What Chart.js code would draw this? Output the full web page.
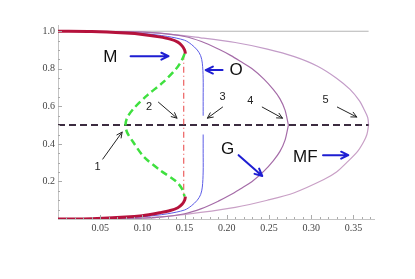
<!DOCTYPE html>
<html>
<head>
<meta charset="utf-8">
<script src="https://cdn.jsdelivr.net/npm/chart.js@4.4.1/dist/chart.umd.min.js"></script>
<style>
  html, body { margin: 0; padding: 0; background: #fff; }
  canvas { display: block; }
</style>
</head>
<body>
<canvas id="chart" width="415" height="279"></canvas>
<script>
// curve points [x, y]
const mUpper = [[0, 1.0], [0.04, 0.998], [0.08, 0.99], [0.10, 0.983], [0.12, 0.97], [0.133, 0.958], [0.142, 0.942], [0.147, 0.922], [0.150, 0.90], [0.151, 0.88]];
const mLower = [[0, 0], [0.04, 0.002], [0.08, 0.01], [0.10, 0.018], [0.12, 0.033], [0.133, 0.045], [0.142, 0.06], [0.147, 0.078], [0.150, 0.10], [0.151, 0.12]];
const mUnstable = [[0.150, 0.88], [0.146, 0.84], [0.140, 0.80], [0.125, 0.73], [0.106, 0.66], [0.090, 0.59], [0.082, 0.54], [0.080, 0.50], [0.082, 0.46], [0.089, 0.41], [0.102, 0.33], [0.121, 0.26], [0.140, 0.20], [0.147, 0.16], [0.150, 0.12]];
const oUpper = [[0, 1.0], [0.06, 0.996], [0.10, 0.988], [0.13, 0.972], [0.15, 0.952], [0.158, 0.93], [0.165, 0.90], [0.169, 0.87], [0.171, 0.83], [0.172, 0.75], [0.172, 0.65], [0.172, 0.55]];
const oLower = [[0, 0], [0.06, 0.004], [0.10, 0.012], [0.13, 0.028], [0.15, 0.048], [0.158, 0.07], [0.165, 0.10], [0.169, 0.13], [0.171, 0.17], [0.172, 0.25], [0.172, 0.35], [0.172, 0.45]];
const gUpper = [[0, 1.0], [0.08, 0.998], [0.12, 0.99], [0.15, 0.972], [0.17, 0.945], [0.19, 0.905], [0.205, 0.87], [0.216, 0.84], [0.23, 0.80], [0.244, 0.745], [0.255, 0.69], [0.263, 0.64], [0.269, 0.58], [0.273, 0.5]];
const gLower = [[0, 0], [0.08, 0.002], [0.12, 0.01], [0.15, 0.028], [0.17, 0.055], [0.19, 0.095], [0.205, 0.13], [0.216, 0.16], [0.23, 0.20], [0.244, 0.255], [0.255, 0.31], [0.263, 0.36], [0.269, 0.42], [0.273, 0.5]];
const mfUpper = [[0, 1.0], [0.08, 0.998], [0.12, 0.99], [0.169, 0.965], [0.21, 0.94], [0.248, 0.905], [0.28, 0.865], [0.307, 0.815], [0.33, 0.75], [0.346, 0.69], [0.357, 0.63], [0.363, 0.58], [0.367, 0.54], [0.368, 0.5]];
const mfLower = [[0, 0], [0.08, 0.002], [0.12, 0.01], [0.169, 0.035], [0.21, 0.062], [0.248, 0.10], [0.28, 0.14], [0.315, 0.21], [0.33, 0.25], [0.342, 0.30], [0.355, 0.36], [0.362, 0.41], [0.366, 0.45], [0.368, 0.5]];
const topLine = [[0, 1.0], [0.368, 1.0]];
const halfLine = [[0, 0.5], [0.368, 0.5]];
const spinodal = [[0.149, 0.88], [0.149, 0.12]];

const xTicks = [0.05, 0.10, 0.15, 0.20, 0.25, 0.30, 0.35];
const yTicks = [0.2, 0.4, 0.6, 0.8, 1.0];

// labels and arrows, in data units
const labels = [
  { text: 'M', x: 0.062, y: 0.859, size: 17, color: '#111' },
  { text: 'O', x: 0.211, y: 0.793, size: 17, color: '#111' },
  { text: 'G', x: 0.201, y: 0.372, size: 17, color: '#111' },
  { text: 'MF', x: 0.293, y: 0.33, size: 17, color: '#111' },
  { text: '1', x: 0.047, y: 0.277, size: 11, color: '#222' },
  { text: '2', x: 0.108, y: 0.596, size: 11, color: '#222' },
  { text: '3', x: 0.195, y: 0.649, size: 11, color: '#222' },
  { text: '4', x: 0.228, y: 0.628, size: 11, color: '#222' },
  { text: '5', x: 0.317, y: 0.633, size: 11, color: '#222' }
];
const arrows = [
  { from: [0.086, 0.867], to: [0.131, 0.867], color: '#1e1ed2', width: 2, head: 8 },
  { from: [0.195, 0.793], to: [0.175, 0.793], color: '#1e1ed2', width: 2, head: 8 },
  { from: [0.214, 0.340], to: [0.242, 0.229], color: '#1e1ed2', width: 2, head: 8 },
  { from: [0.314, 0.340], to: [0.344, 0.340], color: '#1e1ed2', width: 2, head: 8 },
  { from: [0.053, 0.319], to: [0.076, 0.463], color: '#222', width: 1, head: 6 },
  { from: [0.119, 0.622], to: [0.141, 0.537], color: '#222', width: 1, head: 6 },
  { from: [0.195, 0.596], to: [0.177, 0.537], color: '#222', width: 1, head: 6 },
  { from: [0.242, 0.596], to: [0.266, 0.537], color: '#222', width: 1, head: 6 },
  { from: [0.331, 0.596], to: [0.354, 0.543], color: '#222', width: 1, head: 6 }
];

const pts = arr => arr.map(p => ({ x: p[0], y: p[1] }));

function curve(data, color, width, order, extra) {
  return Object.assign({
    data: pts(data),
    showLine: true,
    borderColor: color,
    borderWidth: width,
    pointRadius: 0,
    tension: 0.3,
    fill: false,
    order: order
  }, extra || {});
}

// inward tick marks, Mathematica style
const tickMarks = {
  id: 'tickMarks',
  afterDraw(chart) {
    const { ctx, scales: { x, y } } = chart;
    ctx.save();
    ctx.strokeStyle = '#aaa';
    ctx.lineWidth = 1;
    ctx.beginPath();
    for (let i = 1; i <= 37; i++) {
      const v = i / 100;
      const px = Math.round(x.getPixelForValue(v)) + 0.5;
      const len = i % 5 === 0 ? 4 : 2;
      ctx.moveTo(px, y.bottom);
      ctx.lineTo(px, y.bottom - len);
    }
    for (let i = 1; i <= 20; i++) {
      const v = i / 20;
      const py = Math.round(y.getPixelForValue(v)) + 0.5;
      const len = i % 4 === 0 ? 4 : 2;
      ctx.moveTo(x.left, py);
      ctx.lineTo(x.left + len, py);
    }
    ctx.stroke();
    ctx.restore();
  }
};

const notes = {
  id: 'notes',
  afterDatasetsDraw(chart) {
    const { ctx, scales: { x, y } } = chart;
    ctx.save();
    arrows.forEach(a => {
      const x1 = x.getPixelForValue(a.from[0]), y1 = y.getPixelForValue(a.from[1]);
      const x2 = x.getPixelForValue(a.to[0]), y2 = y.getPixelForValue(a.to[1]);
      const ang = Math.atan2(y2 - y1, x2 - x1);
      ctx.strokeStyle = a.color;
      ctx.lineWidth = a.width;
      ctx.lineCap = 'round';
      ctx.lineJoin = 'round';
      ctx.beginPath();
      ctx.moveTo(x1, y1);
      ctx.lineTo(x2, y2);
      ctx.moveTo(x2 - a.head * Math.cos(ang - 0.45), y2 - a.head * Math.sin(ang - 0.45));
      ctx.lineTo(x2, y2);
      ctx.lineTo(x2 - a.head * Math.cos(ang + 0.45), y2 - a.head * Math.sin(ang + 0.45));
      ctx.stroke();
    });
    ctx.textAlign = 'center';
    ctx.textBaseline = 'middle';
    labels.forEach(l => {
      ctx.font = l.size + 'px "Liberation Sans", Arial, sans-serif';
      ctx.fillStyle = l.color;
      ctx.fillText(l.text, x.getPixelForValue(l.x), y.getPixelForValue(l.y));
    });
    ctx.restore();
  }
};

new Chart(document.getElementById('chart').getContext('2d'), {
  type: 'scatter',
  data: {
    datasets: [
      curve(topLine, '#b4b4b4', 1.2, 9, { tension: 0 }),
      curve(mfUpper, '#c39cc8', 1.2, 8),
      curve(mfLower, '#c9a0c6', 1.2, 8),
      curve(gUpper, '#a56ca8', 1.2, 7),
      curve(gLower, '#a56ca8', 1.2, 7),
      curve(oUpper, '#5c5ce6', 1, 6),
      curve(oLower, '#5c5ce6', 1, 6),
      curve(halfLine, '#3c2c40', 2, 5, { tension: 0, borderDash: [7, 4] }),
      curve(spinodal, '#e84040', 1, 4, { tension: 0, borderDash: [6, 3, 1, 3] }),
      curve(mUpper, '#b5123c', 3, 3),
      curve(mLower, '#b5123c', 3, 3),
      curve(mUnstable, '#3fe03f', 2.5, 2, { borderDash: [7, 4] })
    ]
  },
  options: {
    responsive: false,
    animation: false,
    events: [],
    layout: { padding: { top: 25.6, right: 40.5, left: 0, bottom: 0 } },
    plugins: { legend: { display: false }, tooltip: { enabled: false } },
    scales: {
      x: {
        type: 'linear',
        min: 0,
        max: 0.375,
        afterFit: s => { s.height = 60; },
        afterBuildTicks: s => { s.ticks = xTicks.map(v => ({ value: v })); },
        grid: { display: false, drawTicks: false },
        border: { display: true, color: '#c4c4c4', width: 1 },
        ticks: {
          padding: 3,
          maxRotation: 0,
          autoSkip: false,
          color: '#444',
          font: { family: '"Liberation Serif", "Times New Roman", serif', size: 10 },
          callback: v => v.toFixed(2)
        }
      },
      y: {
        type: 'linear',
        min: 0,
        max: 1.03,
        afterFit: s => { s.width = 58; },
        afterBuildTicks: s => { s.ticks = yTicks.map(v => ({ value: v })); },
        grid: { display: false, drawTicks: false },
        border: { display: true, color: '#c4c4c4', width: 1 },
        ticks: {
          padding: 3,
          autoSkip: false,
          color: '#444',
          font: { family: '"Liberation Serif", "Times New Roman", serif', size: 10 },
          callback: v => v.toFixed(1)
        }
      }
    }
  },
  plugins: [tickMarks, notes]
});
</script>
</body>
</html>
